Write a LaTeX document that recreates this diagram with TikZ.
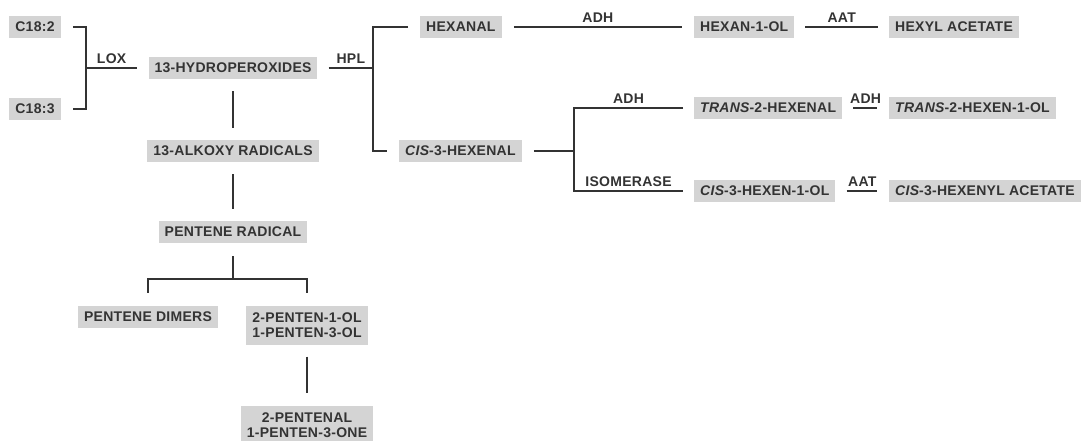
\documentclass[tikz,border=0pt]{standalone}
\usepackage{fontspec}
\setmainfont{Liberation Sans}[LetterSpace=2.0]
\usepackage{xcolor}
\definecolor{boxgray}{HTML}{D4D4D4}
\definecolor{ink}{HTML}{333333}

\begin{document}
\begin{tikzpicture}[x=1pt, y=-1pt,
    every node/.style={font=\fontsize{14}{15}\selectfont\bfseries, text=ink},
    compound/.style={fill=boxgray, inner xsep=6pt, inner ysep=0pt, minimum height=22pt},
    pair/.style={compound, align=center, minimum height=39pt},
    enzyme/.style={above, inner sep=3.5pt},
    link/.style={draw=ink, line width=1.3pt, shorten <=12pt, shorten >=12pt},
    bracket/.style={draw=ink, line width=1.3pt}]

    \useasboundingbox (0,0) rectangle (1082,441);

    % Fatty acids and the LOX step
    \node[compound] (c182) at (35,27) {C18:2};
    \node[compound] (c183) at (35,109) {C18:3};
    \node[compound] (hydro) at (233,68) {13-HYDROPEROXIDES};
    \coordinate (lox) at (86,68);
    \draw[bracket] ([xshift=12pt]c182.east) -| (lox) |- ([xshift=12pt]c183.east);
    \draw[bracket] (lox) -- ([xshift=-11pt]hydro.west) node[enzyme, midway] {LOX};

    % Radical branch going down
    \node[compound] (alkoxy) at (233,151) {13-ALKOXY RADICALS};
    \node[compound] (pradical) at (233,232) {PENTENE RADICAL};
    \node[compound] (dimers) at (148,317) {PENTENE DIMERS};
    \node[pair] (pentenol) at (307,325) {2-PENTEN-1-OL\\1-PENTEN-3-OL};
    \node[pair] (pentenal) at (307,425) {2-PENTENAL\\1-PENTEN-3-ONE};
    \draw[link] (hydro) -- (alkoxy);
    \draw[link] (alkoxy) -- (pradical);
    \coordinate (fork) at (233,279);
    \draw[bracket] ([yshift=-13pt]pradical.south) -- (fork);
    \draw[bracket] ([yshift=13pt]dimers.north) |- (fork) -| ([yshift=12pt]pentenol.north);
    \draw[link] (pentenol) -- (pentenal);

    % HPL splits into the C6 aldehydes
    \node[compound, anchor=west] (hexanal) at (420,27) {HEXANAL};
    \node[compound, anchor=west] (cishexenal) at (399,151) {{\itshape CIS}-3-HEXENAL};
    \coordinate (hpl) at (373,68);
    \draw[bracket] ([xshift=11pt]hydro.east) -- (hpl) node[enzyme, midway] {HPL};
    \draw[bracket] ([xshift=-12pt]hexanal.west) -| (hpl) |- ([xshift=-12pt]cishexenal.west);

    % Hexanal line
    \node[compound, anchor=west] (hexanol) at (694,27) {HEXAN-1-OL};
    \node[compound, anchor=west] (hexylac) at (889,27) {HEXYL ACETATE};
    \draw[link] (hexanal.east) -- (hexanol.west) node[enzyme, midway] {ADH};
    \draw[link, shorten <=11pt, shorten >=11pt] (hexanol.east) -- (hexylac.west) node[enzyme, midway] {AAT};

    % Cis-3-hexenal line
    \node[compound, anchor=west] (transhexenal) at (694,108) {{\itshape TRANS}-2-HEXENAL};
    \node[compound, anchor=west] (transhexenol) at (889,108) {{\itshape TRANS}-2-HEXEN-1-OL};
    \node[compound, anchor=west] (cishexenol) at (694,191) {{\itshape CIS}-3-HEXEN-1-OL};
    \node[compound, anchor=west] (cishexenylac) at (889,191) {{\itshape CIS}-3-HEXENYL ACETATE};
    \coordinate (split) at (574,151);
    \draw[bracket] ([xshift=12pt]cishexenal.east) -- (split);
    \draw[bracket] ([xshift=-11pt]transhexenal.west) -| node[enzyme, pos=0.25] {ADH} (split)
        |- node[enzyme, pos=0.75] {ISOMERASE} ([xshift=-11pt]cishexenol.west);
    \draw[link, shorten <=11pt] (transhexenal.east) -- (transhexenol.west) node[enzyme, midway] {ADH};
    \draw[link, shorten <=11pt] (cishexenol.east) -- (cishexenylac.west) node[enzyme, midway] {AAT};
\end{tikzpicture}
\end{document}
